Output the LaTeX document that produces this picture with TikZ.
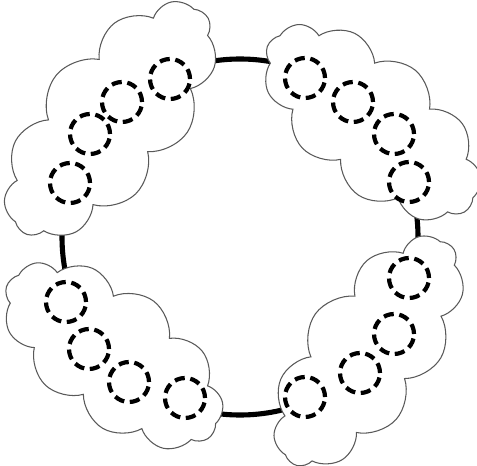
\documentclass[tikz,border=0pt]{standalone}
\usetikzlibrary{shapes.symbols}
\begin{document}
\begin{tikzpicture}[x=0.02cm,y=-0.02cm,
  ring/.style={line width=2.9pt,black},
  puff/.style={cloud,cloud puffs=11,cloud puff arc=120,draw=black!65,line width=0.6pt,fill=white,inner sep=0pt,cloud ignores aspect},
  hole/.style={circle,draw=black,line width=2.4pt,dash pattern=on 5.8pt off 3.2pt,minimum size=0.8cm,inner sep=0pt}]
\useasboundingbox (0,0) rectangle (477,466);
\draw[ring] (240,237) circle[radius=178];
\node[puff,minimum width=5.7cm,minimum height=2.8cm,rotate=50] (cTL) at (110,120) {};
\node[puff,minimum width=5.2cm,minimum height=2.7cm,rotate=-40] (cTR) at (372,122) {};
\node[puff,minimum width=5.1cm,minimum height=2.7cm,rotate=-37] (cBL) at (113,355) {};
\node[puff,minimum width=5.4cm,minimum height=2.6cm,rotate=54] (cBR) at (368,352) {};
\node[hole] (a1) at (170,79) {};
\node[hole] (a2) at (122,102) {};
\node[hole] (a3) at (90,134) {};
\node[hole] (a4) at (70,183) {};
\node[hole] (b1) at (305,78) {};
\node[hole] (b2) at (353,102) {};
\node[hole] (b3) at (394,134) {};
\node[hole] (b4) at (409,182) {};
\node[hole] (c1) at (66,302) {};
\node[hole] (c2) at (89,349) {};
\node[hole] (c3) at (129,382) {};
\node[hole] (c4) at (185,398) {};
\node[hole] (d1) at (409,278) {};
\node[hole] (d2) at (394,334) {};
\node[hole] (d3) at (360,373) {};
\node[hole] (d4) at (305,397) {};
\end{tikzpicture}
\end{document}
